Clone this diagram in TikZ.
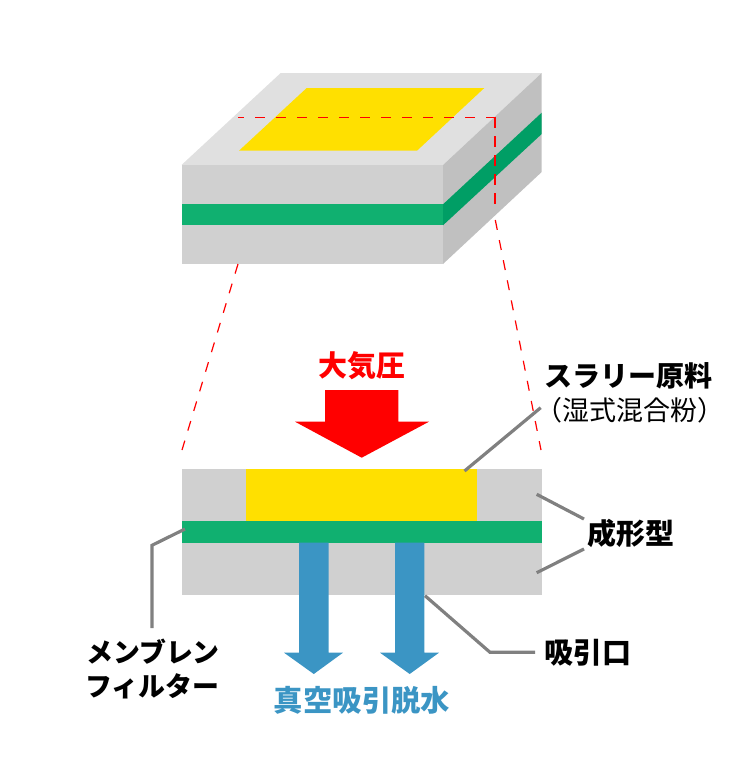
\documentclass[tikz,border=0pt]{standalone}
\usepackage{fontspec}
\setmainfont{Noto Sans CJK JP}
\definecolor{topface}{HTML}{E0E0E0}
\definecolor{frontface}{HTML}{D0D0D0}
\definecolor{sideface}{HTML}{C0C0C0}
\definecolor{mgreen}{HTML}{10B070}
\definecolor{mgreendark}{HTML}{009E65}
\definecolor{slurry}{HTML}{FFE000}
\definecolor{vacblue}{HTML}{3B95C4}
\definecolor{leader}{HTML}{808080}
\tikzset{
  x=1pt,y=-1pt,
  leaderline/.style={draw=leader,line width=3.2pt,line join=miter},
  zoomthin/.style={draw=red,line width=1.2pt,dash pattern=on 10pt off 10.5pt},
  cutline/.style={draw=red,line width=1.2pt,dash pattern=on 10pt off 11pt,dash phase=4pt},
  zoomthick/.style={draw=red,line width=2.4pt,dash pattern=on 11pt off 8pt},
  lab/.style={font=\bfseries\fontsize{29}{32}\selectfont,text=black,inner sep=0pt,anchor=center},
  sublab/.style={font=\fontsize{27}{30}\selectfont,text=black,inner sep=0pt,anchor=center},
}
\begin{document}
\begin{tikzpicture}
\useasboundingbox (0,0) rectangle (751,771);
% --- block in perspective
\fill[topface] (181.5,165) -- (443,165) -- (541.7,73) -- (280.7,73) -- cycle;
\fill[slurry] (239,150.7) -- (417,150.7) -- (484.3,88) -- (306.7,88) -- cycle;
\fill[frontface] (181.5,165) rectangle (443,264);
\fill[mgreen] (181.5,204.3) rectangle (443,225.3);
\fill[sideface] (443,165) -- (541.7,73) -- (541.7,172) -- (443,264) -- cycle;
\fill[mgreendark] (443,204.3) -- (541.7,112.7) -- (541.7,134) -- (443,225.3) -- cycle;
% --- named points of the zoom lines
\coordinate (cutL) at (238,117.3);
\coordinate (cutR) at (494.7,117.3);
\coordinate (cutB) at (494.7,209);
\coordinate (rayRt) at (495.3,220);
\coordinate (rayRb) at (541,450);
\coordinate (rayLt) at (238,264);
\coordinate (rayLb) at (182,450);
\draw[cutline] (cutL) -- (cutR);
\draw[zoomthick] (cutR) -- (cutB);
\draw[zoomthin] (rayRt) -- (rayRb);
\draw[zoomthin] (rayLt) -- (rayLb);
% --- cross section
\fill[frontface] (181.5,469) rectangle (541.5,595);
\fill[slurry] (246,469) rectangle (476.7,521);
\fill[mgreen] (181.5,521) rectangle (541.5,542.7);
% --- arrows
\fill[vacblue] (299,542.7) -- (328.7,542.7) -- (328.7,652.7) -- (343,652.7) -- (313.8,674) -- (284,652.7) -- (299,652.7) -- cycle;
\fill[vacblue] (395,542.7) -- (424.3,542.7) -- (424.3,652.7) -- (439,652.7) -- (409.7,674) -- (380,652.7) -- (395,652.7) -- cycle;
\fill[red] (325,390) -- (398.3,390) -- (398.3,421.7) -- (429,421.7) -- (361.7,457.7) -- (295,421.7) -- (325,421.7) -- cycle;
% --- labels
\node[lab,text=red] (atm) at (361.5,366) {大気圧};
\node[lab,font=\bfseries\fontsize{28}{32}\selectfont] (slurrylab) at (628,376) {スラリー原料};
\node[sublab] (wetmix) at (630,410) {（湿式混合粉）};
\node[lab] (moldlab) at (630.5,533) {成形型};
\node[lab] (intakelab) at (588,653) {吸引口};
\node[lab,font=\bfseries\fontsize{26.9}{32}\selectfont] (memb1) at (153,652) {メンブレン};
\node[lab,font=\bfseries\fontsize{26.9}{32}\selectfont] (memb2) at (152,686) {フィルター};
\node[lab,text=vacblue,font=\bfseries\fontsize{29.4}{32}\selectfont] (vacuum) at (362,700) {真空吸引脱水};
% --- leader lines
\coordinate (pSlurry) at (464.5,471);
\coordinate (pMoldA) at (536.7,494.3);
\coordinate (pMoldB) at (536.7,572.7);
\coordinate (pMemb) at (185,529);
\coordinate (pMembBend) at (152,545.3);
\coordinate (pIntake) at (425,595.7);
\coordinate (pIntakeBend) at (490,652.3);
\draw[leaderline] (pSlurry) -- (540.7,407.7);
\draw[leaderline] (pMoldA) -- (584,519);
\draw[leaderline] (pMoldB) -- (584,549);
\draw[leaderline] (pMemb) -- (pMembBend) -- (152,628);
\draw[leaderline] (pIntake) -- (pIntakeBend) -- (535,652.3);
\end{tikzpicture}
\end{document}
